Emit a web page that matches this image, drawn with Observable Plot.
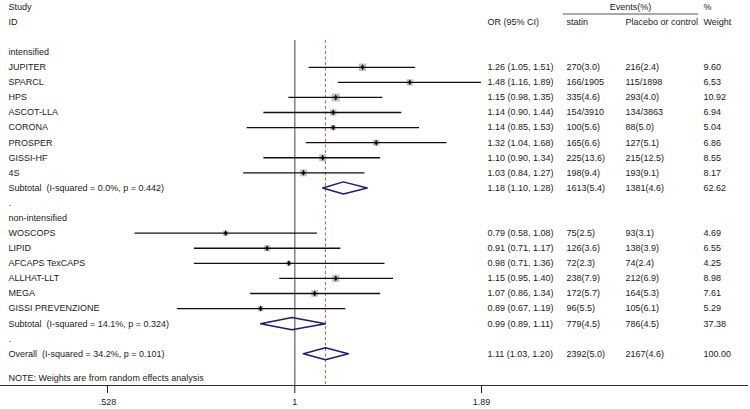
<!DOCTYPE html>
<html><head><meta charset="utf-8">
<script src="https://cdn.jsdelivr.net/npm/d3@7"></script>
<script src="https://cdn.jsdelivr.net/npm/@observablehq/plot@0.6"></script>
<style>body{margin:0;background:#fff} svg{display:block}</style>
</head><body><div id="chart"></div>
<script>
// ---- data ----
const groups = ["intensified", "non-intensified"];
const studies = ["JUPITER","SPARCL","HPS","ASCOT-LLA","CORONA","PROSPER","GISSI-HF","4S",
  "WOSCOPS","LIPID","AFCAPS TexCAPS","ALLHAT-LLT","MEGA","GISSI PREVENZIONE"];
const studyGroup = ["intensified","intensified","intensified","intensified","intensified","intensified","intensified","intensified",
  "non-intensified","non-intensified","non-intensified","non-intensified","non-intensified","non-intensified"];
const orEst = [1.26,1.48,1.15,1.14,1.14,1.32,1.10,1.03,0.79,0.91,0.98,1.15,1.07,0.89];
const orLo  = [1.05,1.16,0.98,0.90,0.85,1.04,0.90,0.84,0.58,0.71,0.71,0.95,0.86,0.67];
const orHi  = [1.51,1.89,1.35,1.44,1.53,1.68,1.34,1.27,1.08,1.17,1.36,1.40,1.34,1.19];
const statinEv  = ["270(3.0)","166/1905","335(4.6)","154/3910","100(5.6)","165(6.6)","225(13.6)","198(9.4)",
  "75(2.5)","126(3.6)","72(2.3)","238(7.9)","172(5.7)","96(5.5)"];
const placeboEv = ["216(2.4)","115/1898","293(4.0)","134/3863","88(5.0)","127(5.1)","215(12.5)","193(9.1)",
  "93(3.1)","138(3.9)","74(2.4)","212(6.9)","164(5.3)","105(6.1)"];
const weights = [9.60,6.53,10.92,6.94,5.04,6.86,8.55,8.17,4.69,6.55,4.25,8.98,7.61,5.29];

const pooledLabel = ["Subtotal  (I-squared = 0.0%, p = 0.442)","Subtotal  (I-squared = 14.1%, p = 0.324)","Overall  (I-squared = 34.2%, p = 0.101)"];
const pooledEst = [1.18,0.99,1.11];
const pooledLo  = [1.10,0.89,1.03];
const pooledHi  = [1.28,1.11,1.20];
const pooledStatin  = ["1613(5.4)","779(4.5)","2392(5.0)"];
const pooledPlacebo = ["1381(4.6)","786(4.5)","2167(4.6)"];
const pooledWeight  = [62.62,37.38,100.00];

const tickVals = [0.528, 1, 1.89];
const tickText = [".528", "1", "1.89"];
const note = "NOTE: Weights are from random effects analysis";

// ---- layout (rows) ----
const fmt = v => v.toFixed(2);
const studyRows = [], pooledRows = [], labelRows = [];
let r = 0;
groups.forEach((g, gi) => {
  labelRows.push({row: r++, text: g});
  studies.forEach((s, i) => {
    if (studyGroup[i] !== g) return;
    studyRows.push({row: r++, name: s, est: orEst[i], lo: orLo[i], hi: orHi[i],
      statin: statinEv[i], placebo: placeboEv[i], weight: weights[i]});
  });
  pooledRows.push({row: r++, name: pooledLabel[gi], est: pooledEst[gi], lo: pooledLo[gi], hi: pooledHi[gi],
    statin: pooledStatin[gi], placebo: pooledPlacebo[gi], weight: pooledWeight[gi]});
  labelRows.push({row: r++, text: "."});
});
pooledRows.push({row: r, name: pooledLabel[2], est: pooledEst[2], lo: pooledLo[2], hi: pooledHi[2],
  statin: pooledStatin[2], placebo: pooledPlacebo[2], weight: pooledWeight[2]});
const overallRow = r;
labelRows.push({row: overallRow + 1.6, text: note});

const allRows = [...studyRows, ...pooledRows];
const diamondVerts = pooledRows.flatMap((p, k) => [
  {k, x: p.lo, y: p.row}, {k, x: p.est, y: p.row - 0.4}, {k, x: p.hi, y: p.row},
  {k, x: p.est, y: p.row + 0.4}, {k, x: p.lo, y: p.row}
]);

const col = {label: 8, or: 487, statin: 566, placebo: 625, weight: 703, events: 630};
const headers = [
  {row: -3, text: "Study", x: col.label, anchor: "start"},
  {row: -2, text: "ID", x: col.label, anchor: "start"},
  {row: -2, text: "OR (95% CI)", x: col.or, anchor: "start"},
  {row: -3, text: "Events(%)", x: col.events, anchor: "middle"},
  {row: -2, text: "statin", x: col.statin, anchor: "start"},
  {row: -2, text: "Placebo or control", x: col.placebo, anchor: "start"},
  {row: -3, text: "%", x: col.weight, anchor: "start"},
  {row: -2, text: "Weight", x: col.weight, anchor: "start"}
];
const textColor = "#1a1a1a";
const txt = (data, opts, dx, anchor = "start") =>
  Plot.text(data, {y: "row", frameAnchor: "left", dx, textAnchor: anchor, fill: textColor, ...opts});

const chart = Plot.plot({
  width: 750, height: 409,
  marginTop: 40, marginBottom: 24, marginLeft: 0, marginRight: 3,
  style: {fontFamily: "'Liberation Sans', Arial, sans-serif", fontSize: "9px", color: "#1a1a1a", background: "#fff"},
  x: {type: "log", domain: [0.528, 1.89], range: [107, 481], ticks: tickVals,
      tickFormat: d => tickText[tickVals.indexOf(d)], tickSize: 8, tickPadding: 5, label: null},
  y: {domain: [0, 20], range: [51.7, 353.3], axis: null},
  r: {type: "sqrt", domain: [0, 10.92], range: [0, 4.5]},
  marks: [
    Plot.frame({anchor: "bottom", stroke: "#333"}),
    Plot.ruleX([1], {stroke: "#7a7a7a", strokeWidth: 1.4}),
    Plot.ruleX([pooledEst[2]], {stroke: "#a04848", strokeWidth: 0.9, strokeDasharray: "3,2.5"}),
    Plot.dot(studyRows, {x: "est", y: "row", r: "weight", symbol: "square", fill: "#c0c0c0"}),
    Plot.ruleY(studyRows, {y: "row", x1: "lo", x2: "hi", stroke: "#111", strokeWidth: 1.3}),
    Plot.dot(studyRows, {x: "est", y: "row", r: 1.8, symbol: "diamond", fill: "#000"}),
    Plot.line(diamondVerts, {x: "x", y: "y", z: "k", stroke: "#1c1c78", strokeWidth: 1.5}),
    txt(labelRows, {text: "text"}, col.label),
    txt(allRows, {text: "name"}, col.label),
    txt(allRows, {text: d => `${fmt(d.est)} (${fmt(d.lo)}, ${fmt(d.hi)})`}, col.or),
    txt(allRows, {text: "statin"}, col.statin),
    txt(allRows, {text: "placebo"}, col.placebo),
    txt(allRows, {text: d => fmt(d.weight)}, col.weight),
    ...headers.map(h => txt([h], {text: "text"}, h.x, h.anchor)),
    (index, scales) => {
      const yy = scales.y(-2.5);
      return d3.create("svg:line").attr("x1", col.statin - 3).attr("x2", col.weight - 5)
        .attr("y1", yy).attr("y2", yy).attr("stroke", "#555").attr("stroke-width", 1).node();
    }
  ]
});
document.getElementById("chart").appendChild(chart);
</script>
</body></html>
